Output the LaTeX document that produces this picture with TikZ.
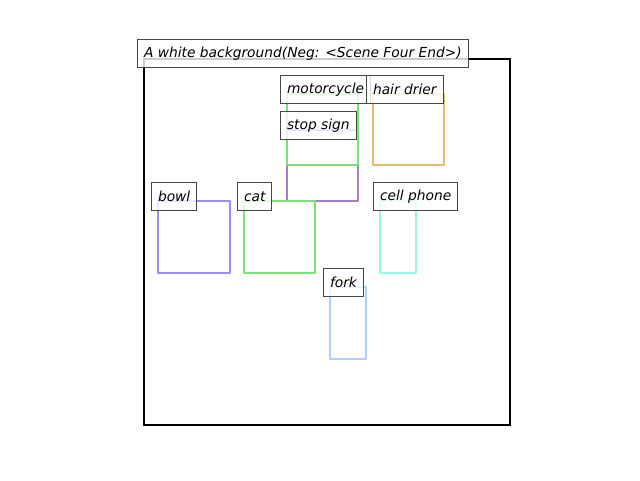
\documentclass[tikz,border=0pt]{standalone}
\usepackage{fontspec}
\setmainfont{DejaVu Sans}
\begin{document}
\begin{tikzpicture}[x=1pt,y=-1pt,
  frame/.style={draw=black,line width=2.3pt},
  bbox/.style={line width=2.5pt,line join=round},
  tag/.style={draw=black!72,line width=1pt,fill=white,fill opacity=0.8,text opacity=1,
    anchor=south west,minimum height=28pt,inner xsep=6.5pt,inner ysep=0pt,
    font=\fontsize{13.8}{16}\selectfont\itshape}]
\definecolor{cMoto}{HTML}{80DC80}
\definecolor{cCat}{HTML}{7BE07B}
\definecolor{cStop}{HTML}{A97CC6}
\definecolor{cHair}{HTML}{E0BE70}
\definecolor{cBowl}{HTML}{9E8CFF}
\definecolor{cCell}{HTML}{9BF5E6}
\definecolor{cFork}{HTML}{B0D0F5}
\useasboundingbox (0,0) rectangle (640,480);
% scene frame
\draw[frame] (144,59) rectangle (510,425);
% object boxes
\draw[bbox,cStop] (287,130) rectangle (358,201);
\draw[bbox,cMoto] (287,94) rectangle (358,165);
\draw[bbox,cHair] (373,94) rectangle (444,165);
\draw[bbox,cBowl] (158,201) rectangle (230,273);
\draw[bbox,cCat] (244,201) rectangle (315,273);
\draw[bbox,cCell] (380,201) rectangle (416,273);
\draw[bbox,cFork] (330,287) rectangle (366,359);
% captions
\node[tag] (title) at (137,68) {A white background(Neg: <Scene Four End>)};
\node[tag] (moto) at (280,104) {motorcycle};
\node[tag] (hair) at (366,104) {hair drier};
\node[tag] (stop) at (280,140) {stop sign};
\node[tag] (bowl) at (151,211) {bowl};
\node[tag] (cat) at (237,211) {cat};
\node[tag] (cell) at (373,211) {cell phone};
\node[tag] (fork) at (323,297) {fork};
\end{tikzpicture}
\end{document}
